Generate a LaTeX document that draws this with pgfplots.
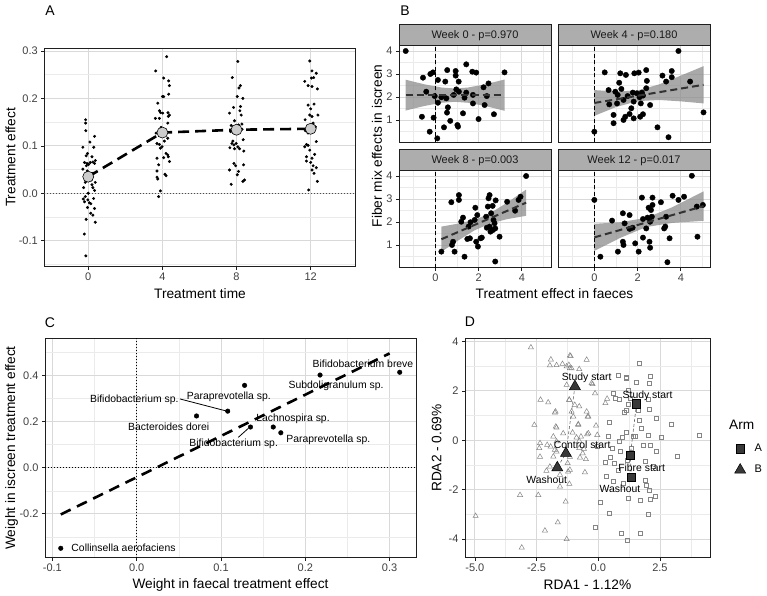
\documentclass[border=0pt]{standalone}
\usepackage{pgfplots}
\pgfplotsset{compat=1.18}
\usepackage{fontspec}
\setmainfont{Liberation Sans}
\newcommand{\tickfont}{\fontsize{11}{12}\selectfont}
\newcommand{\titlefont}{\fontsize{13.7}{15}\selectfont}
\newcommand{\lblfont}{\fontsize{10.4}{11}\selectfont}
\definecolor{gridmaj}{gray}{0.85}
\definecolor{gridmin}{gray}{0.92}
\definecolor{panelbd}{gray}{0.12}
\definecolor{ticktxt}{gray}{0.25}
\definecolor{stripfill}{gray}{0.68}
\definecolor{ribbon}{gray}{0.55}
\definecolor{ptgray}{gray}{0.52}
\pgfplotsset{
  gg/.style={
    scale only axis, anchor=south west,
    axis line style={panelbd, line width=1pt},
    grid=both,
    major grid style={gridmaj, line width=0.8pt},
    minor grid style={gridmin, line width=0.5pt},
    tick align=outside, tick pos=left,
    major tick length=3pt, minor tick length=0pt,
    tick style={panelbd, line width=0.7pt},
    tick label style={font=\tickfont, text=ticktxt},
    clip mode=individual,
  },
  facet/.style={gg, width=152pt, height=97pt,
    xmin=-1.68, xmax=5.35, ymin=0.02, ymax=4.24,
    xtick={0,2,4}, xticklabels={0,2,4},
    ytick={1,2,3,4}, yticklabels={1,2,3,4},
    minor xtick={-1,1,3,5}, minor ytick={0.5,1.5,2.5,3.5},
  },
  nox/.style={xticklabels={}, xtick style={draw=none}},
  noy/.style={yticklabels={}, ytick style={draw=none}},
  bpts/.style={only marks, mark=*, mark size=2.7pt, black},
  bline/.style={black!80, line width=2pt, dash pattern=on 7pt off 4pt},
  bzero/.style={black, line width=1pt, dash pattern=on 4pt off 2.5pt},
  bribbon/.style={fill=ribbon, fill opacity=0.75, draw=none},
}
\begin{document}
\begin{tikzpicture}
\path[use as bounding box] (0pt,0pt) rectangle (767pt,595pt);

% ================= Panel A =================
\begin{axis}[gg, at={(44.3pt,328.3pt)}, width=310.7pt, height=218.4pt,
  xmin=-2.37, xmax=14.39, ymin=-0.1548, ymax=0.3057,
  xtick={0,4,8,12}, xticklabels={0,4,8,12},
  ytick={-0.1,0,0.1,0.2,0.3}, yticklabels={-0.1,0.0,0.1,0.2,0.3},
  minor ytick={-0.15,-0.05,0.05,0.15,0.25},
]
\addplot[black!70, line width=0.9pt, dash pattern=on 1pt off 2pt] coordinates {(-2.37,0) (14.39,0)};
\addplot[only marks, mark=*, mark size=1.3pt, black] coordinates {
(-0.14,0.155) (-0.14,0.148) (-0.13,0.132) (0.34,0.120) (0.09,0.108) (-0.29,0.097) (0.30,0.097) (-0.04,0.084) (-0.11,0.079) (0.2,0.077) (-0.2,0.065) (-0.07,0.063) (0.11,0.065) (0.34,0.063) (0.02,0.061) (0.38,0.069) (-0.29,0.051) (-0.05,0.047) (0.21,0.042) (0.38,0.023) (-0.16,0.023) (0.34,0.006) (0.25,0.012) (0.2,0.018) (0.0,0.0) (-0.16,-0.007) (-0.27,-0.012) (-0.02,-0.014) (0.29,-0.011) (-0.2,-0.018) (0.14,-0.022) (-0.04,-0.030) (0.34,-0.032) (0.13,-0.042) (0.25,-0.046) (-0.11,-0.055) (0.38,-0.061) (-0.21,-0.086) (-0.13,-0.132) (0.09,0.032) (0.25,0.066) (-0.1,0.058) (0.15,0.028) (-0.25,0.012) (0.06,-0.02) (0.28,0.042)
(4.23,0.288) (3.64,0.258) (4.07,0.243) (4.34,0.237) (4.38,0.227) (4.34,0.209) (4.0,0.204) (4.07,0.204) (3.75,0.190) (3.84,0.174) (4.02,0.169) (4.38,0.165) (4.32,0.162) (3.62,0.158) (3.84,0.158) (4.29,0.148) (3.93,0.139) (3.66,0.127) (3.71,0.105) (3.84,0.103) (3.98,0.098) (3.89,0.095) (4.2,0.084) (4.29,0.081) (4.32,0.077) (4.07,0.075) (4.38,0.067) (3.71,0.074) (3.8,0.060) (3.71,0.047) (4.14,0.040) (4.2,0.037) (3.71,0.034) (3.75,0.030) (3.89,0.005) (3.8,-0.007) (4.29,0.116) (4.11,0.110) (4.3,0.170) (3.9,0.170)
(8.07,0.278) (7.77,0.244) (8.21,0.227) (8.13,0.222) (8.04,0.204) (8.34,0.200) (8.21,0.183) (7.84,0.181) (8.18,0.174) (7.62,0.169) (8.25,0.165) (7.89,0.153) (7.71,0.143) (8.11,0.144) (8.29,0.146) (7.68,0.130) (7.86,0.127) (8.36,0.113) (7.75,0.105) (7.86,0.102) (7.98,0.105) (8.07,0.098) (7.64,0.096) (7.89,0.094) (8.16,0.094) (8.39,0.089) (7.86,0.063) (7.95,0.058) (8.38,0.060) (7.62,0.049) (8.11,0.046) (8.04,0.039) (8.34,0.025) (8.43,0.028) (7.71,0.019) (7.8,0.110) (8.3,0.135)
(11.95,0.279) (12.07,0.258) (12.3,0.253) (12.04,0.243) (12.16,0.244) (11.68,0.236) (11.86,0.227) (12.07,0.225) (12.36,0.220) (11.86,0.186) (12.18,0.188) (12.0,0.178) (12.39,0.165) (11.95,0.165) (12.07,0.162) (11.7,0.155) (12.13,0.148) (11.71,0.132) (12.3,0.109) (11.77,0.103) (11.86,0.101) (11.68,0.098) (11.95,0.091) (12.21,0.082) (11.77,0.077) (12.07,0.074) (11.77,0.068) (12.0,0.065) (12.13,0.058) (12.3,0.054) (12.07,0.049) (12.18,0.042) (12.36,0.025) (11.89,0.007) (11.86,0.127) (12.25,0.140)
};
\addplot[black, line width=2.6pt, dash pattern=on 11pt off 6pt] coordinates {(0,0.035) (4,0.128) (8,0.134) (12,0.136)};
\addplot[only marks, mark=*, mark size=5.5pt, mark options={fill=gray!40, draw=black, line width=0.6pt}] coordinates {(0,0.035) (4,0.128) (8,0.134) (12,0.136)};
\end{axis}
\node[font=\titlefont] at (200pt,301.7pt) {Treatment time};
\node[font=\titlefont, rotate=90] at (10.5pt,437.5pt) {Treatment effect};
\node[font=\fontsize{14}{15}\selectfont] at (50pt,584pt) {A};

% ================= Panel B =================
% Week 0
\begin{axis}[facet, nox, at={(399pt,452.5pt)}]
\addplot[bribbon] coordinates {(-1.37,2.75) (-0.5,2.55) (0.3,2.41) (0.9,2.37) (1.5,2.41) (2.3,2.55) (3.2,2.76) (3.2,1.40) (2.3,1.61) (1.5,1.75) (0.9,1.79) (0.3,1.75) (-0.5,1.61) (-1.37,1.41)} -- cycle;
\addplot[bzero] coordinates {(0,0.02) (0,4.24)};
\addplot[bpts] coordinates {(-1.37,4.0) (-0.57,2.84) (-0.23,3.0) (-0.11,3.07) (0.12,2.74) (0.46,2.67) (0.55,3.17) (0.94,3.13) (0.94,2.93) (1.08,2.67) (1.43,3.42) (1.71,3.10) (1.89,3.06) (3.2,3.07) (2.46,2.59) (2.23,2.42) (-0.42,2.23) (-0.03,2.04) (0.28,1.99) (0.51,1.94) (0.85,2.09) (0.97,2.33) (1.09,2.23) (1.43,2.19) (1.35,1.97) (1.74,2.09) (2.38,2.04) (0.12,1.75) (0.58,1.55) (0.54,1.32) (1.28,1.29) (1.74,1.72) (2.28,1.65) (2.71,1.25) (-0.62,1.14) (-0.08,1.10) (0.69,0.96) (1.05,0.71) (1.02,0.78) (2.0,1.04) (-0.26,0.49) (0.4,0.68) (0.09,0.20)};
\addplot[bline] coordinates {(-1.37,2.08) (3.2,2.08)};
\end{axis}
% Week 4
\begin{axis}[facet, nox, noy, at={(558pt,452.5pt)}]
\addplot[bribbon] coordinates {(0,2.30) (1,2.24) (2,2.28) (3,2.55) (4,2.93) (5.05,3.34) (5.05,1.72) (4,1.81) (3,1.87) (2,1.82) (1,1.56) (0,1.18)} -- cycle;
\addplot[bzero] coordinates {(0,0.02) (0,4.24)};
\addplot[bpts] coordinates {(0.0,0.49) (0.48,3.07) (0.66,2.30) (0.69,1.68) (0.89,1.22) (0.89,0.86) (0.97,2.23) (1.08,2.09) (1.15,2.62) (1.2,3.03) (1.25,2.35) (1.35,1.87) (1.46,2.96) (1.54,2.04) (1.63,1.26) (1.43,1.14) (1.35,1.0) (1.71,1.51) (1.78,2.19) (1.82,1.07) (1.85,3.03) (2.05,3.06) (1.97,2.16) (2.09,1.99) (2.2,2.19) (2.15,1.72) (2.25,2.06) (2.4,3.17) (2.43,2.70) (2.4,2.38) (2.12,1.14) (2.25,1.25) (2.58,1.65) (2.92,0.68) (3.15,2.93) (3.32,2.67) (3.58,3.13) (3.58,2.86) (3.43,0.25) (3.89,4.0) (4.43,2.67) (5.05,1.33) (1.82,1.80) (1.05,1.72)};
\addplot[bline] coordinates {(0,1.74) (5.05,2.53)};
\end{axis}
% Week 8
\begin{axis}[facet, at={(399pt,327.5pt)}]
\addplot[bribbon] coordinates {(0.28,1.80) (1.0,1.92) (1.8,2.09) (2.5,2.36) (3.3,2.83) (4.2,3.41) (4.2,2.27) (3.3,2.12) (2.5,1.92) (1.8,1.63) (1.0,1.16) (0.28,0.70)} -- cycle;
\addplot[bzero] coordinates {(0,0.02) (0,4.24)};
\addplot[bpts] coordinates {(0.28,0.71) (0.74,2.86) (0.89,0.71) (0.82,1.14) (0.77,1.0) (1.09,3.17) (1.09,2.96) (1.28,2.19) (1.2,2.01) (1.35,0.49) (1.48,1.26) (1.54,1.80) (1.63,1.99) (1.82,2.09) (1.85,2.62) (1.94,2.30) (1.89,1.14) (1.97,0.93) (2.09,1.29) (2.15,1.32) (2.35,2.23) (2.46,3.03) (2.51,3.17) (2.43,2.67) (2.65,2.70) (2.58,2.38) (2.69,2.09) (2.74,1.94) (2.51,1.80) (2.38,1.75) (2.77,1.72) (2.66,1.65) (2.55,1.58) (2.79,2.94) (2.97,1.36) (2.77,0.28) (3.32,2.88) (3.69,2.49) (3.85,2.96) (3.94,3.10) (4.2,4.0) (1.6,1.29)};
\addplot[bline] coordinates {(0.28,1.25) (4.2,2.84)};
\end{axis}
% Week 12
\begin{axis}[facet, noy, at={(558pt,327.5pt)}]
\addplot[bribbon] coordinates {(0,1.92) (1.2,1.99) (2.4,2.18) (3.6,2.64) (5.05,3.33) (5.05,2.05) (3.6,1.96) (2.4,1.78) (1.2,1.31) (0,0.74)} -- cycle;
\addplot[bzero] coordinates {(0,0.02) (0,4.24)};
\addplot[bpts] coordinates {(0.0,2.96) (0.28,0.49) (0.82,2.06) (1.09,0.71) (1.32,2.38) (1.40,1.94) (1.32,1.14) (1.35,1.0) (1.63,2.30) (1.63,1.70) (1.77,1.75) (1.89,1.07) (2.05,0.71) (2.2,3.06) (2.25,2.13) (2.25,1.32) (2.4,1.72) (2.46,2.19) (2.51,2.62) (2.62,2.52) (2.69,3.06) (2.69,2.74) (2.58,2.01) (2.66,2.23) (2.55,1.14) (2.58,0.88) (3.08,2.86) (3.23,1.72) (3.28,1.80) (3.32,2.23) (3.48,1.29) (3.38,0.25) (3.62,3.14) (3.89,2.96) (4.15,3.10) (4.51,4.01) (4.74,2.67) (4.77,1.36) (5.02,2.74)};
\addplot[bline] coordinates {(0,1.33) (5.05,2.69)};
\end{axis}
% strips
\draw[fill=stripfill, draw=panelbd, line width=1pt] (399pt,549.5pt) rectangle (551pt,570pt);
\draw[fill=stripfill, draw=panelbd, line width=1pt] (558pt,549.5pt) rectangle (710pt,570pt);
\draw[fill=stripfill, draw=panelbd, line width=1pt] (399pt,424.5pt) rectangle (551pt,445pt);
\draw[fill=stripfill, draw=panelbd, line width=1pt] (558pt,424.5pt) rectangle (710pt,445pt);
\node[font=\tickfont, text=black!90] at (475pt,559.75pt) {Week 0 - p=0.970};
\node[font=\tickfont, text=black!90] at (634pt,559.75pt) {Week 4 - p=0.180};
\node[font=\tickfont, text=black!90] at (475pt,434.75pt) {Week 8 - p=0.003};
\node[font=\tickfont, text=black!90] at (634pt,434.75pt) {Week 12 - p=0.017};
\node[font=\titlefont] at (554.5pt,301.7pt) {Treatment effect in faeces};
\node[font=\titlefont, rotate=90] at (377pt,449pt) {Fiber mix effects in iscreen};
\node[font=\fontsize{14}{15}\selectfont] at (405pt,584pt) {B};

% ================= Panel C =================
\begin{axis}[gg, at={(45pt,37.3pt)}, width=371pt, height=219.4pt,
  xmin=-0.1087, xmax=0.3313, ymin=-0.391, ymax=0.5626,
  xtick={-0.1,0,0.1,0.2,0.3}, xticklabels={-0.1,0.0,0.1,0.2,0.3},
  ytick={-0.2,0,0.2,0.4}, yticklabels={-0.2,0.0,0.2,0.4},
  minor xtick={-0.05,0.05,0.15,0.25},
  minor ytick={-0.3,-0.1,0.1,0.3,0.5},
]
\addplot[black, line width=1pt, dash pattern=on 1pt off 2pt] coordinates {(0,-0.391) (0,0.5626)};
\addplot[black, line width=1pt, dash pattern=on 1pt off 2pt] coordinates {(-0.1087,0) (0.3313,0)};
\addplot[black, line width=2.6pt, dash pattern=on 11pt off 7pt] coordinates {(-0.09,-0.203) (0.30,0.497)};
\addplot[black, line width=0.8pt] coordinates {(0.0514,0.299) (0.106,0.247)};
\addplot[black, line width=0.8pt] coordinates {(0.1205,0.132) (0.1324,0.171)};
\addplot[only marks, mark=*, mark size=2.3pt, black] coordinates {(-0.090,-0.350) (0.071,0.225) (0.108,0.246) (0.128,0.358) (0.135,0.177) (0.162,0.177) (0.171,0.152) (0.2175,0.403) (0.312,0.415)};
\node[font=\lblfont, anchor=west] at (axis cs:-0.0815,-0.350) {Collinsella aerofaciens};
\node[font=\lblfont] at (axis cs:0.038,0.178) {Bacteroides dorei};
\node[font=\lblfont] at (axis cs:-0.0028,0.294) {Bifidobacterium sp.};
\node[font=\lblfont] at (axis cs:0.1093,0.309) {Paraprevotella sp.};
\node[font=\lblfont] at (axis cs:0.1854,0.212) {Lachnospira sp.};
\node[font=\lblfont] at (axis cs:0.1151,0.103) {Bifidobacterium sp.};
\node[font=\lblfont] at (axis cs:0.2273,0.1235) {Paraprevotella sp.};
\node[font=\lblfont] at (axis cs:0.2365,0.357) {Subdoligranulum sp.};
\node[font=\lblfont] at (axis cs:0.2684,0.454) {Bifidobacterium breve};
\end{axis}
\node[font=\titlefont] at (230.5pt,10pt) {Weight in faecal treatment effect};
\node[font=\titlefont, rotate=90] at (11.7pt,147pt) {Weight in iscreen treatment effect};
\node[font=\fontsize{14}{15}\selectfont] at (50pt,272.3pt) {C};

% ================= Panel D =================
\begin{axis}[gg, at={(465pt,37.3pt)}, width=245pt, height=219.4pt,
  xmin=-5.40, xmax=4.53, ymin=-4.76, ymax=4.13,
  xtick={-5,-2.5,0,2.5}, xticklabels={-5.0,-2.5,0.0,2.5},
  ytick={-4,-2,0,2,4}, yticklabels={-4,-2,0,2,4},
  minor xtick={-3.75,-1.25,1.25,3.75},
  minor ytick={-3,-1,1,3},
  legend style={at={(1.10,0.527)}, anchor=north west, draw=none, fill=none,
    font=\tickfont, row sep=8pt, inner sep=0pt, nodes={inner sep=2pt}},
  legend cell align=left,
]
\addplot[only marks, mark=square, mark size=2pt, ptgray, line width=0.5pt, forget plot] coordinates {
(1.67,3.12) (0.81,2.65) (1.12,2.54) (1.55,2.34) (2.07,2.31) (2.12,2.61) (0.62,1.91) (1.22,2.01) (0.86,1.66) (1.22,1.47) (1.31,1.70) (2.03,1.66) (1.12,1.20) (1.63,1.20) (2.07,1.26) (2.34,0.91) (2.94,0.66) (4.09,0.21) (0.45,0.72) (1.67,0.82) (1.76,0.49) (2.03,0.21) (2.54,0.12) (0.41,0.15) (0.99,0.12) (1.15,0.31) (1.49,0.15) (1.84,-0.19) (2.12,-0.19) (2.34,-0.46) (0.58,-0.32) (0.91,-0.46) (-0.04,-0.23) (1.17,-0.80) (0.28,-0.91) (0.64,-0.93) (1.90,-0.87) (2.21,-1.07) (3.22,-0.64) (0.32,-1.47) (0.61,-1.68) (1.01,-1.75) (1.90,-1.61) (1.96,-1.81) (2.07,-2.04) (1.22,-2.36) (1.72,-2.42) (2.09,-2.38) (2.30,-2.29) (0.10,-2.52) (0.45,-2.96) (2.03,-2.99) (-0.12,-3.53) (0.95,-3.78) (1.72,-3.78) (1.17,-4.07) (1.42,0.15) (0.86,-0.05) (0.48,-0.69) (0.81,-1.20) (1.04,1.14) (1.15,2.52) (0.68,1.70) (1.35,-0.32)};
\addplot[only marks, mark=triangle, mark size=3pt, ptgray, line width=0.5pt, forget plot] coordinates {
(-2.73,3.76) (-1.92,3.27) (-1.96,3.03) (-1.69,3.04) (-1.45,3.09) (-1.12,3.41) (-1.19,3.05) (-1.08,2.91) (-0.77,2.88) (-0.47,3.26) (-0.27,2.31) (-0.13,1.90) (-1.28,2.24) (-2.34,1.64) (-2.03,1.53) (-1.17,1.64) (-1.08,1.16) (-0.77,1.37) (-0.47,1.16) (-0.40,0.96) (-1.73,1.16) (-2.59,0.62) (-1.72,0.55) (-0.81,0.62) (-0.09,0.59) (-1.82,0.15) (-1.42,0.28) (-1.04,0.31) (-0.70,0.15) (-0.40,0.28) (-0.04,0.21) (-2.36,-0.12) (-1.93,-0.26) (-2.36,-0.67) (-1.69,-0.46) (-0.77,-0.32) (-0.63,-0.53) (-0.50,-0.77) (-1.96,-1.07) (-1.15,-1.20) (-1.55,-1.40) (-0.54,-1.30) (-1.17,-1.77) (-1.55,-1.88) (-3.17,-2.22) (-2.43,-2.22) (-1.32,-2.49) (-1.64,-3.33) (-4.97,-3.07) (-2.16,-3.66) (-1.28,-4.01) (-3.10,-4.35) (-2.10,-1.24) (-1.15,-0.67) (-1.24,-0.93) (0.29,1.50) (0.36,1.68) (-0.58,-0.35) (-1.82,-0.66) (-0.74,-0.70) (-1.22,-1.27) (-2.07,-0.19) (-1.69,-0.05) (-1.76,-0.39) (-2.39,-0.32) (-0.88,0.11) (-0.77,-0.03) (-0.45,0.24) (-1.15,3.43) (-1.28,2.99) (-1.15,2.92) (-0.23,2.27) (-1.18,1.64) (-0.95,1.43) (-1.76,1.12) (-1.01,0.96) (-0.43,0.96) (-1.69,0.51) (-0.81,0.65)};
\addplot[black!60, line width=0.6pt, dash pattern=on 3pt off 2pt, forget plot] coordinates {(-0.945,2.18) (-1.31,-0.53) (-1.66,-1.11)};
\addplot[black!60, line width=0.6pt, dash pattern=on 3pt off 2pt, forget plot] coordinates {(1.55,1.47) (1.30,-0.62) (1.34,-1.51)};
\addplot[only marks, mark=square*, mark size=4.2pt, mark options={fill=black!78, draw=black, line width=0.5pt}] coordinates {(1.55,1.47) (1.30,-0.62) (1.34,-1.51)};
\addlegendentry{\hspace{7pt}A}
\addplot[only marks, mark=triangle*, mark size=6.3pt, mark options={fill=black!78, draw=black, line width=0.5pt}] coordinates {(-0.945,2.18) (-1.31,-0.53) (-1.66,-1.11)};
\addlegendentry{\hspace{7pt}B}
\node[font=\lblfont] at (axis cs:-0.47,2.52) {Study start};
\node[font=\lblfont] at (axis cs:-0.65,-0.19) {Control start};
\node[font=\lblfont] at (axis cs:-2.09,-1.61) {Washout};
\node[font=\lblfont] at (axis cs:2.0,1.81) {Study start};
\node[font=\lblfont] at (axis cs:1.76,-1.10) {Fibre start};
\node[font=\lblfont] at (axis cs:0.88,-1.97) {Washout};
\end{axis}
\node[font=\titlefont] at (587.5pt,10pt) {RDA1 - 1.12\%};
\node[font=\titlefont, rotate=90] at (436.7pt,147pt) {RDA2 - 0.69\%};
\node[font=\titlefont] at (741.7pt,170pt) {Arm};
\node[font=\fontsize{14}{15}\selectfont] at (470pt,273.3pt) {D};
\end{tikzpicture}
\end{document}
